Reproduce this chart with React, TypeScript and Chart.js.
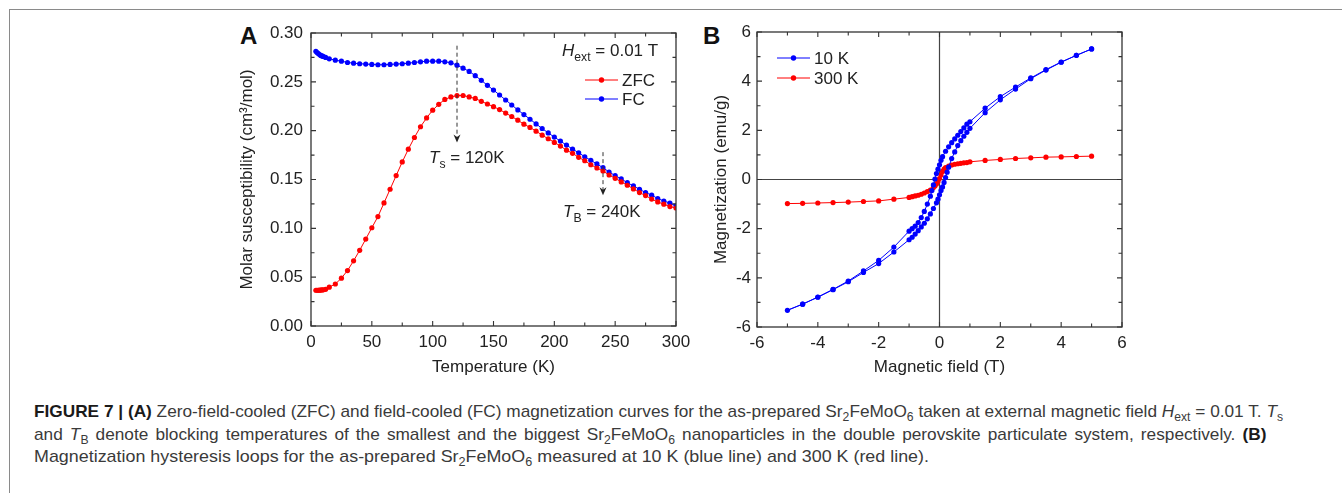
import React, { useEffect, useLayoutEffect, useRef } from 'react';
import { Chart, registerables } from 'chart.js';

Chart.register(...registerables);

// ---------- Panel A data ----------
const TEMP_ZFC = [4, 5, 6, 7, 8, 9, 10, 12, 15, 20, 25, 30, 35, 40, 45, 50, 55, 60, 65, 70, 75, 80, 85, 90, 95, 100, 105, 110, 115, 120, 125, 130, 135, 140, 145, 150, 155, 160, 165, 170, 175, 180, 185, 190, 195, 200, 205, 210, 215, 220, 225, 230, 235, 240, 245, 250, 255, 260, 265, 270, 275, 280, 285, 290, 295, 300];
const CHI_ZFC = [0.0366, 0.0366, 0.0366, 0.0367, 0.0368, 0.0369, 0.037, 0.0376, 0.0398, 0.043, 0.049, 0.0568, 0.0667, 0.0775, 0.089, 0.1006, 0.112, 0.126, 0.14, 0.154, 0.168, 0.181, 0.193, 0.204, 0.213, 0.221, 0.227, 0.232, 0.2345, 0.236, 0.236, 0.2345, 0.233, 0.23, 0.2273, 0.2246, 0.2216, 0.218, 0.2145, 0.2107, 0.2066, 0.2033, 0.1995, 0.1954, 0.1917, 0.188, 0.1842, 0.18, 0.1768, 0.1727, 0.1692, 0.1651, 0.1618, 0.1587, 0.1546, 0.1512, 0.1475, 0.1441, 0.1404, 0.1366, 0.1335, 0.13, 0.127, 0.1247, 0.1223, 0.1208];
const TEMP_FC = [4, 5, 6, 7, 8, 9, 10, 12, 15, 20, 25, 30, 35, 40, 45, 50, 55, 60, 65, 70, 75, 80, 85, 90, 95, 100, 105, 110, 115, 120, 125, 130, 135, 140, 145, 150, 155, 160, 165, 170, 175, 180, 185, 190, 195, 200, 205, 210, 215, 220, 225, 230, 235, 240, 245, 250, 255, 260, 265, 270, 275, 280, 285, 290, 295, 300];
const CHI_FC = [0.2813, 0.28, 0.279, 0.278, 0.277, 0.2765, 0.276, 0.275, 0.2736, 0.2722, 0.2712, 0.2698, 0.2691, 0.2685, 0.2682, 0.2678, 0.2675, 0.2675, 0.2678, 0.2682, 0.2685, 0.2691, 0.2698, 0.2705, 0.2712, 0.2712, 0.2712, 0.2705, 0.2695, 0.2671, 0.264, 0.2607, 0.2563, 0.2515, 0.2464, 0.2416, 0.2365, 0.2314, 0.2263, 0.2212, 0.2165, 0.2117, 0.2069, 0.2022, 0.1977, 0.1934, 0.1893, 0.1852, 0.1811, 0.1774, 0.1733, 0.1696, 0.1659, 0.1621, 0.1577, 0.154, 0.1506, 0.1468, 0.1434, 0.14, 0.1366, 0.134, 0.1305, 0.128, 0.1258, 0.123];

// annotation values (temperature, arrow start / end susceptibility)
const TS_VALUE = 120;
const TS_ARROW = [0.287, 0.188];
const TB_VALUE = 240;
const TB_ARROW = [0.178, 0.134];

// ---------- Panel B data (sweep order) ----------
const H_10K = [5, 4.5, 4, 3.5, 3, 2.5, 2, 1.5, 1, 0.9, 0.8, 0.7, 0.6, 0.5, 0.4, 0.3, 0.2, 0.1, 0.05, 0, -0.05, -0.1, -0.15, -0.2, -0.25, -0.3, -0.4, -0.5, -0.6, -0.7, -0.8, -0.9, -1, -1.5, -2, -2.5, -3, -3.5, -4, -4.5, -5,
  -4.5, -4, -3.5, -3, -2.5, -2, -1.5, -1, -0.9, -0.8, -0.7, -0.6, -0.5, -0.4, -0.3, -0.2, -0.1, -0.05, 0, 0.05, 0.1, 0.15, 0.2, 0.25, 0.3, 0.4, 0.5, 0.6, 0.7, 0.8, 0.9, 1, 1.5, 2, 2.5, 3, 3.5, 4, 4.5, 5];
const M_10K = [5.31, 5.05, 4.78, 4.47, 4.13, 3.76, 3.37, 2.9, 2.35, 2.25, 2.1, 1.95, 1.8, 1.65, 1.5, 1.33, 1.15, 0.93, 0.78, 0.6, 0.42, 0.24, 0.02, -0.22, -0.45, -0.68, -1.0, -1.3, -1.55, -1.75, -1.9, -2.0, -2.1, -2.75, -3.29, -3.72, -4.13, -4.47, -4.78, -5.07, -5.32,
  -5.07, -4.79, -4.48, -4.16, -3.78, -3.42, -2.95, -2.45, -2.35, -2.22, -2.08, -1.93, -1.78, -1.6, -1.4, -1.18, -0.95, -0.8, -0.62, -0.45, -0.3, -0.12, 0.08, 0.3, 0.5, 0.85, 1.12, 1.38, 1.58, 1.76, 1.92, 2.08, 2.72, 3.24, 3.68, 4.1, 4.45, 4.77, 5.05, 5.31];
const H_300K = [-5, -4.5, -4, -3.5, -3, -2.5, -2, -1.5, -1, -0.9, -0.8, -0.7, -0.6, -0.5, -0.4, -0.3, -0.2, -0.15, -0.1, -0.05, 0, 0.05, 0.1, 0.15, 0.2, 0.3, 0.4, 0.5, 0.6, 0.7, 0.8, 0.9, 1, 1.5, 2, 2.5, 3, 3.5, 4, 4.5, 5];
const M_300K = [-0.98, -0.97, -0.955, -0.94, -0.92, -0.895, -0.87, -0.8, -0.73, -0.7, -0.67, -0.64, -0.6, -0.55, -0.49, -0.43, -0.33, -0.26, -0.18, -0.08, 0.04, 0.18, 0.33, 0.42, 0.48, 0.55, 0.59, 0.62, 0.64, 0.66, 0.68, 0.69, 0.72, 0.775, 0.815, 0.855, 0.88, 0.91, 0.92, 0.935, 0.95];

const RED = '#ff0000';
const BLUE = '#0000ff';
const INK = '#222222';
const FONT = '"Liberation Sans", Arial, Helvetica, sans-serif';
const FS = 17;

type Part = { t: string; it?: boolean; sub?: boolean };

function drawRich(ctx: CanvasRenderingContext2D, parts: Part[], x: number, y: number, size: number) {
  let cx = x;
  ctx.textBaseline = 'alphabetic';
  ctx.textAlign = 'left';
  ctx.fillStyle = INK;
  for (const p of parts) {
    const fs = p.sub ? size * 0.72 : size;
    ctx.font = `${p.it ? 'italic ' : ''}${fs}px ${FONT}`;
    ctx.fillText(p.t, cx, y + (p.sub ? size * 0.3 : 0));
    cx += ctx.measureText(p.t).width;
  }
}

function drawArrow(ctx: CanvasRenderingContext2D, x: number, y0: number, y1: number) {
  ctx.save();
  ctx.strokeStyle = '#333';
  ctx.lineWidth = 1;
  ctx.setLineDash([4, 3]);
  ctx.beginPath();
  ctx.moveTo(x, y0);
  ctx.lineTo(x, y1 - 2);
  ctx.stroke();
  ctx.setLineDash([]);
  ctx.fillStyle = '#222';
  ctx.beginPath();
  ctx.moveTo(x, y1);
  ctx.lineTo(x - 3.5, y1 - 8);
  ctx.lineTo(x, y1 - 5.5);
  ctx.lineTo(x + 3.5, y1 - 8);
  ctx.closePath();
  ctx.fill();
  ctx.restore();
}

function drawLegendRow(ctx: CanvasRenderingContext2D, x0: number, x1: number, y: number, color: string, label: string) {
  ctx.save();
  ctx.strokeStyle = color;
  ctx.lineWidth = 1;
  ctx.beginPath();
  ctx.moveTo(x0, y);
  ctx.lineTo(x1, y);
  ctx.stroke();
  ctx.fillStyle = color;
  ctx.beginPath();
  ctx.arc((x0 + x1) / 2, y, 2.7, 0, Math.PI * 2);
  ctx.fill();
  ctx.fillStyle = INK;
  ctx.font = `${FS}px ${FONT}`;
  ctx.textBaseline = 'middle';
  ctx.fillText(label, x1 + 4, y + 1);
  ctx.restore();
}

// frame + inward ticks on all four sides
const framePlugin = {
  id: 'frameTicks',
  afterDatasetsDraw(chart: any) {
    const { ctx, chartArea: a, scales } = chart;
    const xs = scales.x;
    const ys = scales.y;
    ctx.save();
    ctx.strokeStyle = '#333';
    ctx.lineWidth = 1.3;
    ctx.strokeRect(a.left, a.top, a.right - a.left, a.bottom - a.top);
    ctx.lineWidth = 1.1;
    const major = 5;
    const minor = 3.5;
    const xt = xs.ticks.map((t: any) => t.value);
    const yt = ys.ticks.map((t: any) => t.value);
    const mids = (arr: number[]) => arr.slice(0, -1).map((v, i) => (v + arr[i + 1]) / 2);
    ctx.beginPath();
    const vx = (v: number, len: number) => {
      const p = xs.getPixelForValue(v);
      ctx.moveTo(p, a.bottom); ctx.lineTo(p, a.bottom - len);
      ctx.moveTo(p, a.top); ctx.lineTo(p, a.top + len);
    };
    const vy = (v: number, len: number) => {
      const p = ys.getPixelForValue(v);
      ctx.moveTo(a.left, p); ctx.lineTo(a.left + len, p);
      ctx.moveTo(a.right, p); ctx.lineTo(a.right - len, p);
    };
    xt.forEach((v: number) => vx(v, major));
    mids(xt).forEach((v: number) => vx(v, minor));
    yt.forEach((v: number) => vy(v, major));
    mids(yt).forEach((v: number) => vy(v, minor));
    ctx.stroke();
    ctx.restore();
  },
};

const zeroLinesPlugin = {
  id: 'zeroLines',
  beforeDatasetsDraw(chart: any) {
    const { ctx, chartArea: a, scales } = chart;
    const px = scales.x.getPixelForValue(0);
    const py = scales.y.getPixelForValue(0);
    ctx.save();
    ctx.strokeStyle = '#444';
    ctx.lineWidth = 1.2;
    ctx.beginPath();
    ctx.moveTo(px, a.top); ctx.lineTo(px, a.bottom);
    ctx.moveTo(a.left, py); ctx.lineTo(a.right, py);
    ctx.stroke();
    ctx.restore();
  },
};

const annotA = {
  id: 'annotA',
  afterDraw(chart: any) {
    const { ctx, chartArea: a, scales } = chart;
    const xs = scales.x;
    const ys = scales.y;
    const x1 = xs.getPixelForValue(TS_VALUE);
    const tip1 = ys.getPixelForValue(TS_ARROW[1]);
    drawArrow(ctx, x1, ys.getPixelForValue(TS_ARROW[0]), tip1);
    drawRich(ctx, [{ t: 'T', it: true }, { t: 's', sub: true }, { t: ' = 120K' }], x1 - 28, tip1 + 21, FS);
    const x2 = xs.getPixelForValue(TB_VALUE);
    const tip2 = ys.getPixelForValue(TB_ARROW[1]);
    drawArrow(ctx, x2, ys.getPixelForValue(TB_ARROW[0]), tip2);
    drawRich(ctx, [{ t: 'T', it: true }, { t: 'B', sub: true }, { t: ' = 240K' }], x2 - 40, tip2 + 22, FS);
    drawRich(ctx, [{ t: 'H', it: true }, { t: 'ext', sub: true }, { t: ' = 0.01 T' }], a.right - 114, a.top + 23, FS);
    drawLegendRow(ctx, a.right - 91, a.right - 58, a.top + 47, RED, 'ZFC');
    drawLegendRow(ctx, a.right - 91, a.right - 58, a.top + 66, BLUE, 'FC');
  },
};

const annotB = {
  id: 'annotB',
  afterDraw(chart: any) {
    const { ctx, chartArea: a } = chart;
    drawLegendRow(ctx, a.left + 20, a.left + 53, a.top + 26, BLUE, '10 K');
    drawLegendRow(ctx, a.left + 20, a.left + 53, a.top + 46, RED, '300 K');
  },
};

function lineSet(label: string, xs: number[], ys: number[], color: string) {
  return {
    label,
    data: xs.map((x, i) => ({ x, y: ys[i] })),
    borderColor: color,
    backgroundColor: color,
    borderWidth: 1,
    pointRadius: 2.6,
    pointHoverRadius: 2.6,
    pointBorderWidth: 0,
    pointBackgroundColor: color,
    tension: 0,
    showLine: true,
  };
}

function axisCommon(min: number, max: number, step: number, titleText: string, isY: boolean, fixed: number, titlePad: any, tickPad: number, fmt?: (v: number) => string) {
  return {
    type: 'linear' as const,
    min,
    max,
    grid: { display: false, drawTicks: false },
    border: { display: false },
    ticks: {
      stepSize: step,
      color: INK,
      font: { family: FONT, size: FS },
      padding: tickPad,
      maxRotation: 0,
      autoSkip: false,
      callback: fmt ? (v: any) => fmt(Number(v)) : (v: any) => String(Math.round(Number(v) * 1000) / 1000),
    },
    title: { display: true, text: titleText, color: INK, font: { family: FONT, size: FS }, padding: titlePad },
    afterFit: (s: any) => {
      if (isY) s.width = fixed; else s.height = fixed;
      s.paddingLeft = 0; s.paddingRight = 0; s.paddingTop = 0; s.paddingBottom = 0;
    },
  };
}

function useChart(ref: React.RefObject<HTMLCanvasElement>, build: () => any) {
  useEffect(() => {
    const c = ref.current;
    if (!c) return;
    const chart = new Chart(c, build());
    return () => chart.destroy();
  }, []);
}

export default function App() {
  const refA = useRef<HTMLCanvasElement>(null);
  const refB = useRef<HTMLCanvasElement>(null);
  const d1 = useRef<HTMLDivElement>(null);
  const d2 = useRef<HTMLDivElement>(null);
  const d3 = useRef<HTMLDivElement>(null);
  const l1Ref = useRef<HTMLSpanElement>(null);
  const l2Ref = useRef<HTMLSpanElement>(null);
  const l3Ref = useRef<HTMLSpanElement>(null);

  const CAP_X = 34;
  const CAP_W = 1249;
  const CAP_W3 = 895;

  useLayoutEffect(() => {
    const l1 = l1Ref.current, l2 = l2Ref.current, l3 = l3Ref.current;
    if (!l1 || !l2 || !l3 || !d1.current || !d2.current || !d3.current) return;
    const w1 = l1.getBoundingClientRect().width;
    const k = CAP_W / w1;
    d1.current.style.transform = `scaleX(${k})`;
    d2.current.style.transform = `scaleX(${k})`;
    const w2 = l2.getBoundingClientRect().width;
    const spaces = (l2.textContent || '').split(' ').length - 1;
    l2.style.wordSpacing = `${(CAP_W / k - w2) / spaces}px`;
    const w3 = l3.getBoundingClientRect().width;
    d3.current.style.transform = `scaleX(${CAP_W3 / w3})`;
  }, []);

  useChart(refA, () => ({
    type: 'line',
    data: {
      datasets: [lineSet('ZFC', TEMP_ZFC, CHI_ZFC, RED), lineSet('FC', TEMP_FC, CHI_FC, BLUE)],
    },
    options: {
      animation: false,
      responsive: false,
      events: [],
      layout: { padding: { left: 0, top: 13, right: 14, bottom: 0 } },
      plugins: { legend: { display: false }, tooltip: { enabled: false } },
      scales: {
        x: axisCommon(0, 300, 50, 'Temperature (K)', false, 54, { top: 4, bottom: 2 }, 6),
        y: axisCommon(0, 0.3, 0.05, 'Molar susceptibility (cm³/mol)', true, 81, { top: 7, bottom: 0 }, 8, (v) => v.toFixed(2)),
      },
    },
    plugins: [framePlugin, annotA],
  }));

  useChart(refB, () => ({
    type: 'line',
    data: {
      datasets: [lineSet('10 K', H_10K, M_10K, BLUE), lineSet('300 K', H_300K, M_300K, RED)],
    },
    options: {
      animation: false,
      responsive: false,
      events: [],
      layout: { padding: { left: 0, top: 12, right: 18, bottom: 0 } },
      plugins: { legend: { display: false }, tooltip: { enabled: false } },
      scales: {
        x: axisCommon(-6, 6, 2, 'Magnetic field (T)', false, 53, { top: 4, bottom: 2 }, 6),
        y: axisCommon(-6, 6, 2, 'Magnetization (emu/g)', true, 67, { top: 21, bottom: 0 }, 6),
      },
    },
    plugins: [zeroLinesPlugin, framePlugin, annotB],
  }));

  const sub = (t: string) => <span style={{ fontSize: 12, position: 'relative', top: 4 }}>{t}</span>;
  const letter: React.CSSProperties = { position: 'absolute', fontFamily: FONT, fontWeight: 'bold', fontSize: 24, color: '#111', lineHeight: '24px' };
  const lineStyle: React.CSSProperties = { transformOrigin: '0 0', height: 22.5 };

  return (
    <div style={{ position: 'absolute', left: 0, top: 0, width: 1342, height: 493, background: '#fff', overflow: 'hidden' }}>
      <div style={{ position: 'absolute', left: 9, top: 9, width: 1342, height: 493, borderLeft: '1px solid #8a8a8a', borderTop: '1px solid #8a8a8a' }} />
      <div style={{ ...letter, left: 240, top: 24 }}>A</div>
      <div style={{ ...letter, left: 703, top: 24 }}>B</div>
      <canvas ref={refA} width={460} height={360} style={{ position: 'absolute', left: 230, top: 20, width: 460, height: 360 }} />
      <canvas ref={refB} width={450} height={360} style={{ position: 'absolute', left: 690, top: 20, width: 450, height: 360 }} />
      <div style={{ position: 'absolute', left: CAP_X, top: 401, fontFamily: '"Liberation Sans Narrow", "Liberation Sans", Arial, sans-serif', fontSize: 17, lineHeight: '22.5px', color: '#3a3a3a', whiteSpace: 'nowrap' }}>
        <div ref={d1} style={lineStyle}><span ref={l1Ref}><b style={{ color: '#1a1a1a' }}>FIGURE 7 | (A)</b> Zero-field-cooled (ZFC) and field-cooled (FC) magnetization curves for the as-prepared Sr{sub('2')}FeMoO{sub('6')} taken at external magnetic field <i>H</i>{sub('ext')} = 0.01 T. <i>T</i>{sub('s')}</span></div>
        <div ref={d2} style={lineStyle}><span ref={l2Ref}>and <i>T</i>{sub('B')} denote blocking temperatures of the smallest and the biggest Sr{sub('2')}FeMoO{sub('6')} nanoparticles in the double perovskite particulate system, respectively. <b style={{ color: '#1a1a1a' }}>(B)</b></span></div>
        <div ref={d3} style={lineStyle}><span ref={l3Ref}>Magnetization hysteresis loops for the as-prepared Sr{sub('2')}FeMoO{sub('6')} measured at 10 K (blue line) and 300 K (red line).</span></div>
      </div>
    </div>
  );
}
